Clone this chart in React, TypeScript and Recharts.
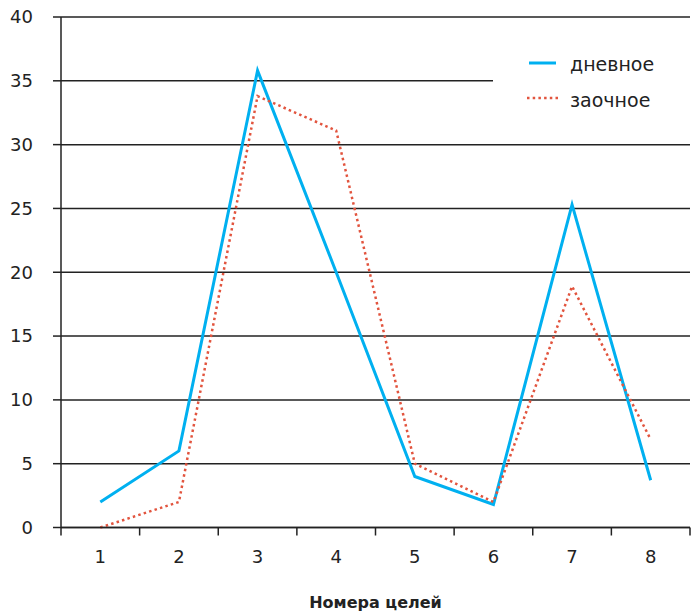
import React from 'react';
import { LineChart, Line, XAxis, YAxis, CartesianGrid, Label } from 'recharts';

const categories = [1, 2, 3, 4, 5, 6, 7, 8];
const daytime = [2, 6, 35.8, 20, 4, 1.8, 25.3, 3.7];
const distance = [0, 2, 33.8, 31.1, 5, 2, 18.9, 6.9];
const yTicks = [0, 5, 10, 15, 20, 25, 30, 35, 40];
const seriesNames = ['дневное', 'заочное'];
const axisTitle = 'Номера целей';

const data = categories.map((c, i) => ({ x: c, day: daytime[i], dist: distance[i] }));
// tick marks sit between the categories
const boundaryTicks = [...categories.map((c) => c - 0.5), categories[categories.length - 1] + 0.5];
const domain: [number, number] = [boundaryTicks[0], boundaryTicks[boundaryTicks.length - 1]];

const FONT = '"DejaVu Sans", sans-serif';
const BLUE = '#00B0F0';
const RED = '#E2543E';
const INK = '#222';

const legendText: React.CSSProperties = {
  position: 'absolute',
  left: 570,
  fontFamily: FONT,
  fontSize: 19,
  lineHeight: '20px',
  color: INK,
  whiteSpace: 'nowrap',
};

const App: React.FC = () => {
  return (
    <div style={{ position: 'absolute', left: 0, top: 0, width: 691, height: 611, background: '#fff' }}>
      <LineChart
        width={691}
        height={611}
        data={data}
        margin={{ top: 17, right: 1, bottom: 0, left: 0 }}
        style={{ fontFamily: FONT }}
      >
        <CartesianGrid horizontal vertical={false} stroke={INK} strokeWidth={1.5} />
        <XAxis
          xAxisId="a_marks"
          type="number"
          dataKey="x"
          domain={domain}
          ticks={boundaryTicks}
          height={8.5}
          tick={() => <g />}
          tickSize={8}
          axisLine={{ stroke: INK, strokeWidth: 1.5 }}
          tickLine={{ stroke: INK, strokeWidth: 1.5 }}
        />
        <XAxis
          xAxisId="b_labels"
          type="number"
          dataKey="x"
          domain={domain}
          ticks={categories}
          height={75}
          axisLine={false}
          tickLine={false}
          tickSize={0}
          tickMargin={14}
          tick={{ fill: INK, fontSize: 18 }}
        >
          <Label
            value={axisTitle}
            position="insideBottom"
            offset={3}
            style={{ fontWeight: 'bold', fontSize: 16, fill: INK }}
          />
        </XAxis>
        <YAxis
          type="number"
          domain={[0, 40]}
          ticks={yTicks}
          width={61}
          tickSize={8}
          tickMargin={20}
          tick={{ fill: INK, fontSize: 18 }}
          axisLine={{ stroke: INK, strokeWidth: 1.5 }}
          tickLine={{ stroke: INK, strokeWidth: 1.5 }}
        />
        <Line
          xAxisId="a_marks"
          type="linear"
          dataKey="day"
          name={seriesNames[0]}
          stroke={BLUE}
          strokeWidth={3}
          dot={false}
          isAnimationActive={false}
        />
        <Line
          xAxisId="a_marks"
          type="linear"
          dataKey="dist"
          name={seriesNames[1]}
          stroke={RED}
          strokeWidth={2.5}
          strokeDasharray="2.5 3.2"
          dot={false}
          isAnimationActive={false}
        />
      </LineChart>
      <div style={{ position: 'absolute', left: 493, top: 20, width: 198, height: 123, background: '#fff' }} />
      <svg style={{ position: 'absolute', left: 520, top: 50, overflow: 'visible' }} width={50} height={60}>
        <line x1={9} y1={13} x2={36} y2={13} stroke={BLUE} strokeWidth={3} />
        <line x1={7} y1={48} x2={39} y2={48} stroke={RED} strokeWidth={2.5} strokeDasharray="2.5 3.2" />
      </svg>
      <div style={{ ...legendText, top: 54 }}>{seriesNames[0]}</div>
      <div style={{ ...legendText, top: 90 }}>{seriesNames[1]}</div>
    </div>
  );
};

export default App;
